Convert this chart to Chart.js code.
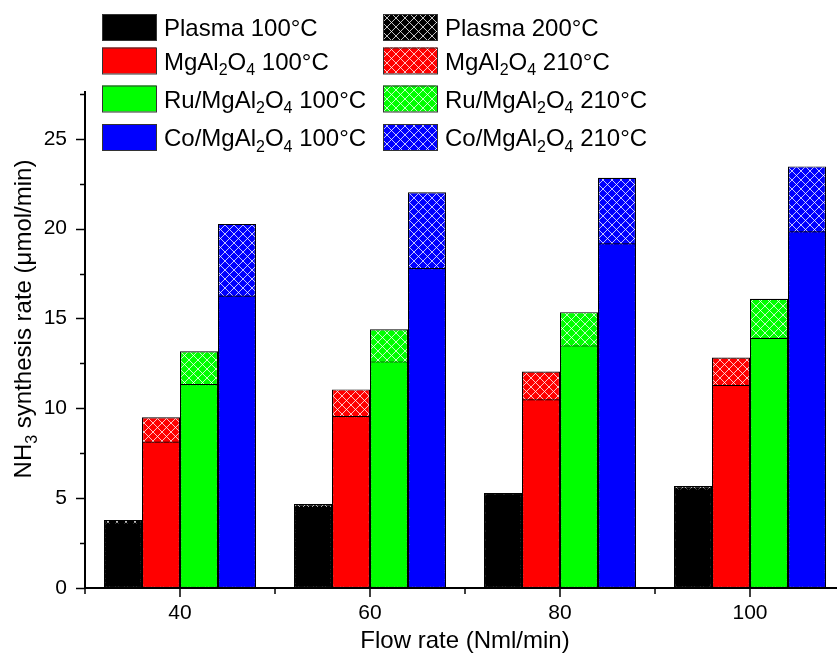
<!DOCTYPE html>
<html>
<head>
<meta charset="utf-8">
<script src="https://cdn.jsdelivr.net/npm/chart.js@4/dist/chart.umd.min.js"></script>
<style>
  html, body { margin: 0; padding: 0; background: #fff; overflow: hidden; }
  #wrap { width: 846px; height: 662px; }
</style>
</head>
<body>
<div id="wrap"><canvas id="mycanvas"></canvas></div>
<script>
const FONT = "'Liberation Sans', Arial, sans-serif";

// data
const flowRates = ["40", "60", "80", "100"];
const yTicks = [0, 5, 10, 15, 20, 25];

const plasma100 = [3.65, 4.52, 5.25, 5.55];
const mg100 = [8.15, 9.57, 10.5, 11.31];
const ru100 = [11.35, 12.61, 13.5, 13.92];
const co100 = [16.28, 17.81, 19.18, 19.85];

const plasma200 = [3.79, 4.67, 5.29, 5.67];
const mg210 = [9.5, 11.05, 12.05, 12.83];
const ru210 = [13.17, 14.4, 15.35, 16.09];
const co210 = [20.26, 22.02, 22.83, 23.46];

const lowLabels = ["Plasma 100°C", "MgAl₂O₄ 100°C", "Ru/MgAl₂O₄ 100°C", "Co/MgAl₂O₄ 100°C"];
const highLabels = ["Plasma 200°C", "MgAl₂O₄ 210°C", "Ru/MgAl₂O₄ 210°C", "Co/MgAl₂O₄ 210°C"];
const colors = ["#000000", "#ff0000", "#00ff00", "#0000ff"];

// crosshatch: thin white diagonal lines on the fill colour
function hatch(color) {
  const n = 9;
  const c = document.createElement("canvas");
  c.width = n;
  c.height = n;
  const g = c.getContext("2d");
  g.fillStyle = color;
  g.fillRect(0, 0, n, n);
  g.strokeStyle = "rgba(255,255,255,0.85)";
  g.lineWidth = 0.9;
  g.beginPath();
  for (const k of [-n, 0, n]) {
    g.moveTo(k - 1, -1); g.lineTo(k + n + 1, n + 1);
    g.moveTo(k + n + 1, -1); g.lineTo(k - 1, n + 1);
  }
  g.stroke();
  return g.createPattern(c, "repeat");
}

const stacks = ["p", "m", "r", "c"];
const lowData = [plasma100, mg100, ru100, co100];
const highData = [plasma200, mg210, ru210, co210];

const datasets = [];
lowData.forEach((d, i) => {
  datasets.push({
    label: lowLabels[i], data: d, stack: stacks[i],
    backgroundColor: colors[i], borderColor: "#000", borderWidth: 1.2, borderSkipped: false,
    categoryPercentage: 0.8, barPercentage: 1.0
  });
});
highData.forEach((d, i) => {
  datasets.push({
    label: highLabels[i], data: d, stack: stacks[i],
    backgroundColor: hatch(colors[i]), borderColor: "#000", borderWidth: 1.2, borderSkipped: false,
    categoryPercentage: 0.8, barPercentage: 1.0
  });
});

// text with real subscript digits
const SUBS = { "₀": "0", "₁": "1", "₂": "2", "₃": "3", "₄": "4", "₅": "5", "₆": "6", "₇": "7", "₈": "8", "₉": "9" };
function richWidth(ctx, text, size) {
  let w = 0;
  for (const ch of text) {
    if (SUBS[ch]) { ctx.font = Math.round(size * 0.66) + "px " + FONT; w += ctx.measureText(SUBS[ch]).width; }
    else { ctx.font = size + "px " + FONT; w += ctx.measureText(ch).width; }
  }
  return w;
}
function drawRich(ctx, text, x, y, size) {
  ctx.textBaseline = "alphabetic";
  ctx.textAlign = "left";
  for (const ch of text) {
    if (SUBS[ch]) {
      ctx.font = Math.round(size * 0.66) + "px " + FONT;
      ctx.fillText(SUBS[ch], x, y + size * 0.24);
      x += ctx.measureText(SUBS[ch]).width;
    } else {
      ctx.font = size + "px " + FONT;
      ctx.fillText(ch, x, y);
      x += ctx.measureText(ch).width;
    }
  }
}

const legendRows = [27, 60.5, 98.5, 137];

const decorPlugin = {
  id: "decor",
  afterDraw(chart) {
    const ctx = chart.ctx;
    const xs = chart.scales.x, ys = chart.scales.y;
    const area = chart.chartArea;
    ctx.save();
    ctx.strokeStyle = "#000";
    ctx.lineWidth = 1.5;
    // y ticks, major and minor
    for (let v = 0; v <= ys.max; v += 2.5) {
      const py = Math.round(ys.getPixelForValue(v)) + 0.5;
      const len = v % 5 === 0 ? 9 : 5;
      ctx.beginPath();
      ctx.moveTo(area.left, py);
      ctx.lineTo(area.left - len, py);
      ctx.stroke();
    }
    // x ticks: major at categories, minor between
    for (let i = 0; i < flowRates.length; i++) {
      const pm = xs.getPixelForValue(i);
      ctx.beginPath(); ctx.moveTo(pm, area.bottom); ctx.lineTo(pm, area.bottom + 9); ctx.stroke();
      const pn = xs.getPixelForValue(i - 0.5);
      ctx.beginPath(); ctx.moveTo(pn, area.bottom); ctx.lineTo(pn, area.bottom + 6); ctx.stroke();
    }
    ctx.fillStyle = "#000";
    // axis titles
    const xt = "Flow rate (Nml/min)";
    drawRich(ctx, xt, (area.left + area.right) / 2 - richWidth(ctx, xt, 24) / 2, 648, 24);
    const yt = "NH₃ synthesis rate (μmol/min)";
    ctx.save();
    ctx.translate(31, 319);
    ctx.rotate(-Math.PI / 2);
    drawRich(ctx, yt, -richWidth(ctx, yt, 24) / 2, 0, 24);
    ctx.restore();
    // legend, two columns
    chart.data.datasets.forEach((ds, i) => {
      const col = i < 4 ? 0 : 1;
      const row = i % 4;
      const bx = col === 0 ? 102 : 383;
      const cy = legendRows[row];
      ctx.fillStyle = ds.backgroundColor;
      ctx.fillRect(bx, cy - 13, 54, 26);
      ctx.lineWidth = 1;
      ctx.strokeStyle = "#333";
      ctx.strokeRect(bx + 0.5, cy - 12.5, 54, 26);
      ctx.fillStyle = "#000";
      drawRich(ctx, ds.label, bx + 62, cy + 9, 24);
    });
    ctx.restore();
  }
};

const config = {
  type: "bar",
  data: { labels: flowRates, datasets },
  options: {
    responsive: true,
    maintainAspectRatio: false,
    animation: false,
    layout: { padding: { top: 92, right: 1, left: 0, bottom: 0 } },
    plugins: { legend: { display: false }, tooltip: { enabled: false } },
    scales: {
      x: {
        stacked: true,
        grid: { display: false, drawTicks: false },
        border: { display: true, color: "#000", width: 2 },
        ticks: { color: "#000", font: { family: FONT, size: 21 }, padding: 13 },
        afterFit: (s) => { s.height = 74; }
      },
      y: {
        stacked: false,
        min: 0,
        max: 27.6,
        grid: { display: false, drawTicks: false },
        border: { display: true, color: "#000", width: 2 },
        ticks: { color: "#000", font: { family: FONT, size: 21 }, padding: 18 },
        afterBuildTicks: (s) => { s.ticks = yTicks.map(v => ({ value: v })); },
        afterFit: (s) => { s.width = 85; }
      }
    }
  },
  plugins: [decorPlugin]
};

const myChart = new Chart(document.querySelector("#mycanvas").getContext("2d"), config);
</script>
</body>
</html>
